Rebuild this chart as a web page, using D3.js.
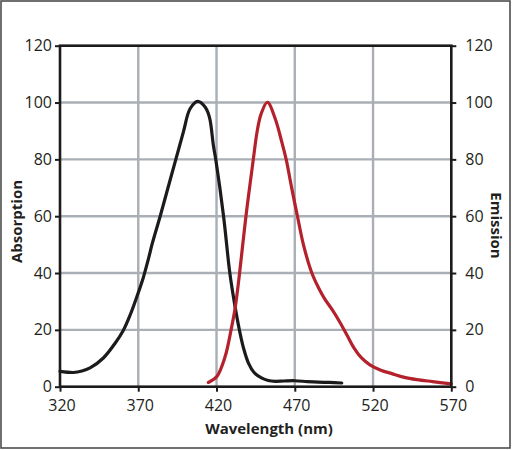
<!DOCTYPE html>
<html>
<head>
<meta charset="utf-8">
<script src="https://cdn.jsdelivr.net/npm/d3@7"></script>
<style>
  html, body { margin: 0; padding: 0; background: #fff; }
  svg { display: block; }
  text { font-family: "Open Sans", "Noto Sans", sans-serif; fill: #231f20; }
</style>
</head>
<body>
<svg id="chart" width="513" height="450"></svg>
<script>
// ---- data ----
const xTicks = [320, 370, 420, 470, 520, 570];
const yTicks = [0, 20, 40, 60, 80, 100, 120];

const absWavelength = [320, 328.5, 334, 339.2, 347.7, 355.2, 360.5, 365, 369, 373, 376.5, 379, 384, 389, 394, 398.8, 403.1, 408, 412.7, 415.5, 418, 419.5, 424.5, 428.5, 431.9, 434.6, 437.3, 440.4, 444, 449, 453, 457.5, 463, 470, 478, 485, 492, 500];
const absorption    = [5.4, 5.0, 5.5, 6.6, 10.1, 15.3, 19.9, 25.5, 31.5, 38, 45, 50.5, 60, 70, 80, 89.6, 97.8, 100.4, 98.4, 94.8, 84.9, 80, 60, 40, 28, 20, 13.5, 8.3, 5, 3, 2.2, 1.9, 2.0, 2.1, 1.8, 1.6, 1.5, 1.3];

const emWavelength = [414.8, 420.2, 425.5, 429.3, 431.9, 434.6, 438.8, 443.5, 446, 448.5, 452.5, 457.5, 461.7, 464.5, 468.1, 471.7, 475.6, 480.9, 485, 489, 494, 499, 503.5, 508, 512.5, 518, 525, 532, 540, 548, 558, 570];
const emission     = [1.5, 3.6, 10.6, 20, 27.7, 39.3, 60, 80, 90, 96, 100.1, 94.3, 86.1, 80, 69.7, 60, 49.8, 40, 35, 31, 27, 22.5, 18, 13.5, 10.2, 7.7, 5.8, 4.6, 3.3, 2.5, 1.8, 1.0];

// ---- layout ----
const svg = d3.select("#chart");
const L = 60, R = 451.3, T = 45.7, B = 386.7;

const x = d3.scaleLinear().domain([320, 570]).range([L, R]);
const y = d3.scaleLinear().domain([0, 120]).range([B, T]);

// outer frame
svg.append("rect").attr("x", 1).attr("y", 1).attr("width", 509).attr("height", 447)
  .attr("fill", "none").attr("stroke", "#4d4d4d").attr("stroke-width", 1.6);

// gridlines
const grid = svg.append("g").attr("stroke", "#a9afb5").attr("stroke-width", 2.4);
grid.selectAll("line.v").data(xTicks.slice(1, -1)).join("line")
  .attr("x1", d => x(d)).attr("x2", d => x(d)).attr("y1", T).attr("y2", B);
grid.selectAll("line.h").data(yTicks.slice(1, -1)).join("line")
  .attr("x1", L).attr("x2", R).attr("y1", d => y(d)).attr("y2", d => y(d));

// curves
const line = d3.line().curve(d3.curveCatmullRom.alpha(0.5));
svg.append("path")
  .attr("d", line(absWavelength.map((w, i) => [x(w), y(absorption[i])])))
  .attr("fill", "none").attr("stroke", "#1c1a1b").attr("stroke-width", 3.2)
  .attr("stroke-linejoin", "round").attr("stroke-linecap", "round");
svg.append("path")
  .attr("d", line(emWavelength.map((w, i) => [x(w), y(emission[i])])))
  .attr("fill", "none").attr("stroke", "#b3222c").attr("stroke-width", 3.2)
  .attr("stroke-linejoin", "round").attr("stroke-linecap", "round");

// axes
const axisStyle = g => {
  g.select(".domain").remove();
  g.selectAll(".tick line").attr("stroke", "#1c1a1b").attr("stroke-width", 2);
  g.selectAll(".tick text").attr("fill", "#231f20")
    .style("font-family", '"Open Sans", sans-serif').style("font-size", "16px");
};

svg.append("g").attr("transform", `translate(0,${B})`)
  .call(d3.axisBottom(x).tickValues(xTicks).tickSize(5).tickPadding(8).tickFormat(d3.format("d")))
  .call(axisStyle)
  .call(g => g.selectAll(".tick text").attr("dx", 1.5));

svg.append("g").attr("transform", `translate(${L},0)`)
  .call(d3.axisLeft(y).tickValues(yTicks).tickSize(5).tickPadding(3).tickFormat(d3.format("d")))
  .call(axisStyle);

svg.append("g").attr("transform", `translate(${R},0)`)
  .call(d3.axisRight(y).tickValues(yTicks).tickSize(5).tickPadding(9).tickFormat(d3.format("d")))
  .call(axisStyle);

// frame lines of plot
svg.append("rect").attr("x", L).attr("y", T).attr("width", R - L).attr("height", B - T)
  .attr("fill", "none").attr("stroke", "#1c1a1b").attr("stroke-width", 2.6);

// axis titles
svg.append("text").attr("x", 269).attr("y", 433.5)
  .attr("text-anchor", "middle").style("font-weight", "700").style("font-size", "15px")
  .text("Wavelength (nm)");

svg.append("text").attr("transform", `translate(22,221.5) rotate(-90)`)
  .attr("text-anchor", "middle").style("font-weight", "700").style("font-size", "15px")
  .text("Absorption");

svg.append("text").attr("transform", `translate(490.5,225.5) rotate(90)`)
  .attr("text-anchor", "middle").style("font-weight", "700").style("font-size", "15px")
  .text("Emission");
</script>
</body>
</html>
